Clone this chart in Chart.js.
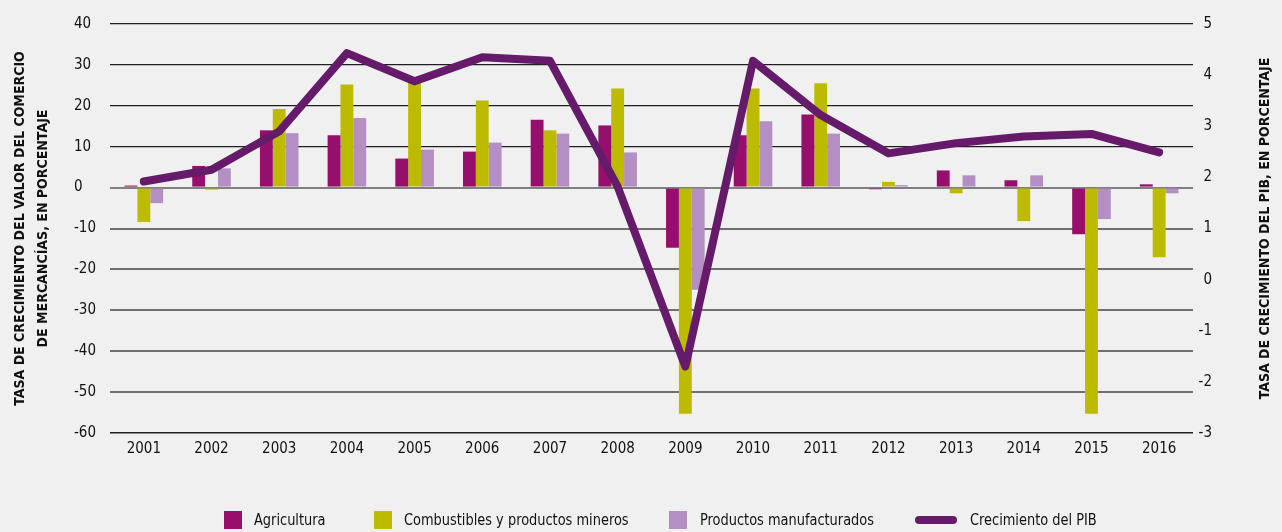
<!DOCTYPE html>
<html><head><meta charset="utf-8">
<script src="https://cdn.jsdelivr.net/npm/chart.js@4/dist/chart.umd.min.js"></script>
<style>
html,body{margin:0;padding:0;background:#f0f0f0;}
#wrap{position:relative;width:1282px;height:532px;overflow:hidden;}
canvas{position:absolute;left:0;top:0;}
.lg{position:absolute;top:511px;height:18px;font-family:'DejaVu Sans Condensed','DejaVu Sans',sans-serif;font-size:16px;line-height:18px;color:#111;white-space:nowrap;transform:scaleX(0.9);transform-origin:0 50%;}
.sw{position:absolute;top:511px;width:18px;height:18px;}
.ln{position:absolute;top:516px;width:42px;height:8px;border-radius:4px;}
</style></head>
<body>
<div id="wrap">
<canvas id="c" width="1282" height="532"></canvas>
<div class="sw" style="left:224px;background:#970f6c"></div><div class="lg" style="left:254px">Agricultura</div>
<div class="sw" style="left:374px;background:#bdbb00"></div><div class="lg" style="left:404px">Combustibles y productos mineros</div>
<div class="sw" style="left:669px;background:#b48fc3"></div><div class="lg" style="left:700px">Productos manufacturados</div>
<div class="ln" style="left:915px;background:#651a6a"></div><div class="lg" style="left:970px">Crecimiento del PIB</div>
</div>
<script>
const years = ['2001','2002','2003','2004','2005','2006','2007','2008','2009','2010','2011','2012','2013','2014','2015','2016'];
const agricultura = [0.5, 5.3, 14.0, 12.8, 7.1, 8.8, 16.6, 15.2, -14.7, 12.8, 17.9, -0.4, 4.2, 1.8, -11.4, 0.8];
const combustibles = [-8.4, -0.5, 19.2, 25.2, 25.8, 21.3, 14.0, 24.2, -55.3, 24.2, 25.5, 1.4, -1.4, -8.2, -55.3, -17.0];
const manufacturas = [-3.8, 4.7, 13.3, 17.0, 9.3, 11.0, 13.2, 8.6, -25.0, 16.2, 13.2, 0.6, 3.0, 3.0, -7.7, -1.4];
const pib = [1.92, 2.15, 2.90, 4.43, 3.88, 4.35, 4.28, 1.82, -1.70, 4.28, 3.22, 2.47, 2.67, 2.80, 2.85, 2.49];
const leftAxis = {min: -60, max: 40, step: 10};
const rightAxis = {min: -3, max: 5, step: 1};
const leftTitle = ['TASA DE CRECIMIENTO DEL VALOR DEL COMERCIO', 'DE MERCANCÍAS, EN PORCENTAJE'];
const rightTitle = 'TASA DE CRECIMIENTO DEL PIB, EN PORCENTAJE';
const seriesNames = ['Agricultura', 'Combustibles y productos mineros', 'Productos manufacturados', 'Crecimiento del PIB'];

const FONT = "'DejaVu Sans Condensed','DejaVu Sans',sans-serif";

const titlesPlugin = {
  id: 'titles',
  afterDraw(chart) {
    const ctx = chart.ctx;
    const cy = (chart.chartArea.top + chart.chartArea.bottom) / 2;
    ctx.save();
    ctx.fillStyle = '#111';
    ctx.font = 'bold 14px ' + FONT;
    ctx.textAlign = 'center';
    ctx.textBaseline = 'middle';
    const draw = (txt, x) => {
      ctx.save(); ctx.translate(x, cy); ctx.rotate(-Math.PI / 2); ctx.fillText(txt, 0, 0); ctx.restore();
    };
    draw(leftTitle[0], 20);
    draw(leftTitle[1], 43);
    draw(rightTitle, 1265);
    ctx.restore();
  }
};

const bgPlugin = {
  id: 'bg',
  beforeDraw(chart) {
    const ctx = chart.ctx; ctx.save(); ctx.fillStyle = '#f0f0f0'; ctx.fillRect(0, 0, chart.width, chart.height); ctx.restore();
  }
};

new Chart(document.getElementById('c'), {
  data: {
    labels: years,
    datasets: [
      {type: 'line', label: seriesNames[3], data: pib, yAxisID: 'y2', borderColor: '#651a6a', borderWidth: 8,
       pointRadius: 0, tension: 0, borderCapStyle: 'round', borderJoinStyle: 'round', order: 0},
      {type: 'bar', label: seriesNames[0], data: agricultura, yAxisID: 'y', backgroundColor: '#970f6c', order: 1},
      {type: 'bar', label: seriesNames[1], data: combustibles, yAxisID: 'y', backgroundColor: '#bdbb00', order: 1},
      {type: 'bar', label: seriesNames[2], data: manufacturas, yAxisID: 'y', backgroundColor: '#b48fc3', order: 1}
    ]
  },
  options: {
    responsive: false,
    animation: false,
    events: [],
    datasets: {bar: {barPercentage: 1, categoryPercentage: 0.57}},
    layout: {padding: {left: 74, right: 70, top: 24, bottom: 0}},
    plugins: {legend: {display: false}, tooltip: {enabled: false}},
    scales: {
      x: {
        grid: {display: false, drawTicks: false}, border: {display: false},
        ticks: {color: '#111', font: {family: FONT, size: 15}, padding: 7, maxRotation: 0},
        afterFit(s) { s.height = 99; }
      },
      y: {
        position: 'left', min: leftAxis.min, max: leftAxis.max,
        border: {display: false},
        grid: {
          drawTicks: false,
          color(ctx) { const v = ctx.tick.value; return v > 0 ? '#1e1e1e' : (v === 0 ? '#808080' : (v === leftAxis.min ? '#1e1e1e' : '#707070')); },
          lineWidth(ctx) { const v = ctx.tick.value; return v > 0 ? 1.3 : (v === leftAxis.min ? 1.5 : 2); }
        },
        ticks: {stepSize: leftAxis.step, crossAlign: 'far', color: '#111', font: {family: FONT, size: 15}},
        afterFit(s) { s.width = 36; }
      },
      y2: {
        position: 'right', min: rightAxis.min, max: rightAxis.max,
        border: {display: false},
        grid: {display: false, drawTicks: false},
        ticks: {stepSize: rightAxis.step, crossAlign: 'far', color: '#111', font: {family: FONT, size: 15}},
        afterFit(s) { s.width = 19; }
      }
    }
  },
  plugins: [bgPlugin, titlesPlugin]
});
</script>
</body></html>
